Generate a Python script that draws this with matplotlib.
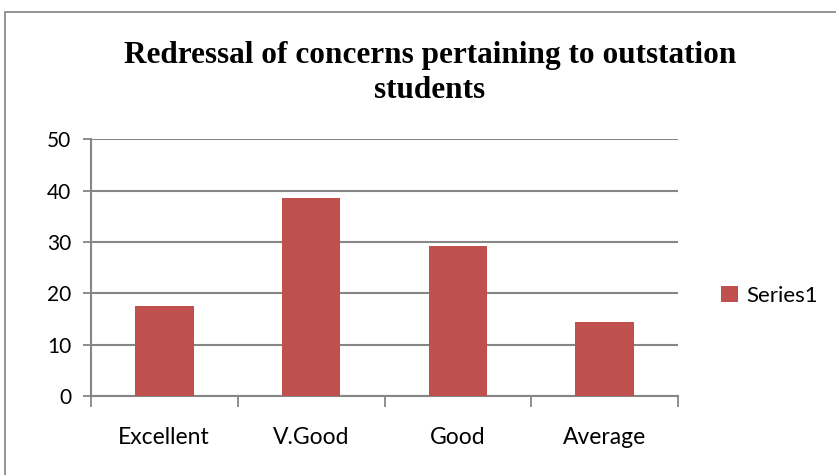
import matplotlib
matplotlib.use("Agg")
import matplotlib.pyplot as plt
from matplotlib.patches import Rectangle
import numpy as np

categories = ["Excellent", "V.Good", "Good", "Average"]
values = [17.5, 38.5, 29.3, 14.4]
yticks = [0, 10, 20, 30, 40, 50]
series_name = "Series1"
title = "Redressal of concerns pertaining to outstation\nstudents"

bar_color = "#C0504D"
grid_color = "#868686"

fig = plt.figure(figsize=(8.36, 4.75), dpi=100)
fig.patches.append(Rectangle((5/836, -0.1), 2, 1.0747, transform=fig.transFigure,
                             fill=False, edgecolor="#8c8c8c", linewidth=1.3))

ax = fig.add_axes([0.1085, 0.1663, 0.7029, 0.5404])
x = np.arange(len(categories))
bars = ax.bar(x, values, width=0.4, color=bar_color, label=series_name, zorder=3)

ax.set_xlim(-0.5, len(categories) - 0.5)
ax.set_ylim(0, 50)
ax.set_yticks(yticks)
ax.set_yticklabels([str(t) for t in yticks], fontsize=15, family="Lato")
ax.yaxis.grid(True, color=grid_color, linewidth=1.5, zorder=0)
ax.tick_params(axis="y", length=6, width=1.3, color=grid_color, pad=8)

ax.set_xticks(np.arange(-0.5, len(categories)), minor=False)
ax.set_xticklabels([""] * (len(categories) + 1))
ax.tick_params(axis="x", length=8, width=1.3, color=grid_color, direction="out")
for xi, c in zip(x, categories):
    ax.text(xi, -0.12, c, transform=ax.get_xaxis_transform(), ha="center", va="top",
            fontsize=16.5, family="Lato")

for s in ["top", "right"]:
    ax.spines[s].set_visible(False)
for s in ["left", "bottom"]:
    ax.spines[s].set_color(grid_color)
    ax.spines[s].set_linewidth(1.5)

fig.text(0.514, 0.847, title, ha="center", va="center", fontsize=22.5, fontweight="bold",
         family="Liberation Serif", linespacing=1.28)

leg = fig.legend(handles=[bars], labels=[series_name], loc="center left",
                 bbox_to_anchor=(701/836, 1 - 296/475), frameon=False,
                 prop={"family": "Lato", "size": 16}, handlelength=0.75, handleheight=0.75,
                 handletextpad=0.4)

fig.savefig("out.png", dpi=100)
